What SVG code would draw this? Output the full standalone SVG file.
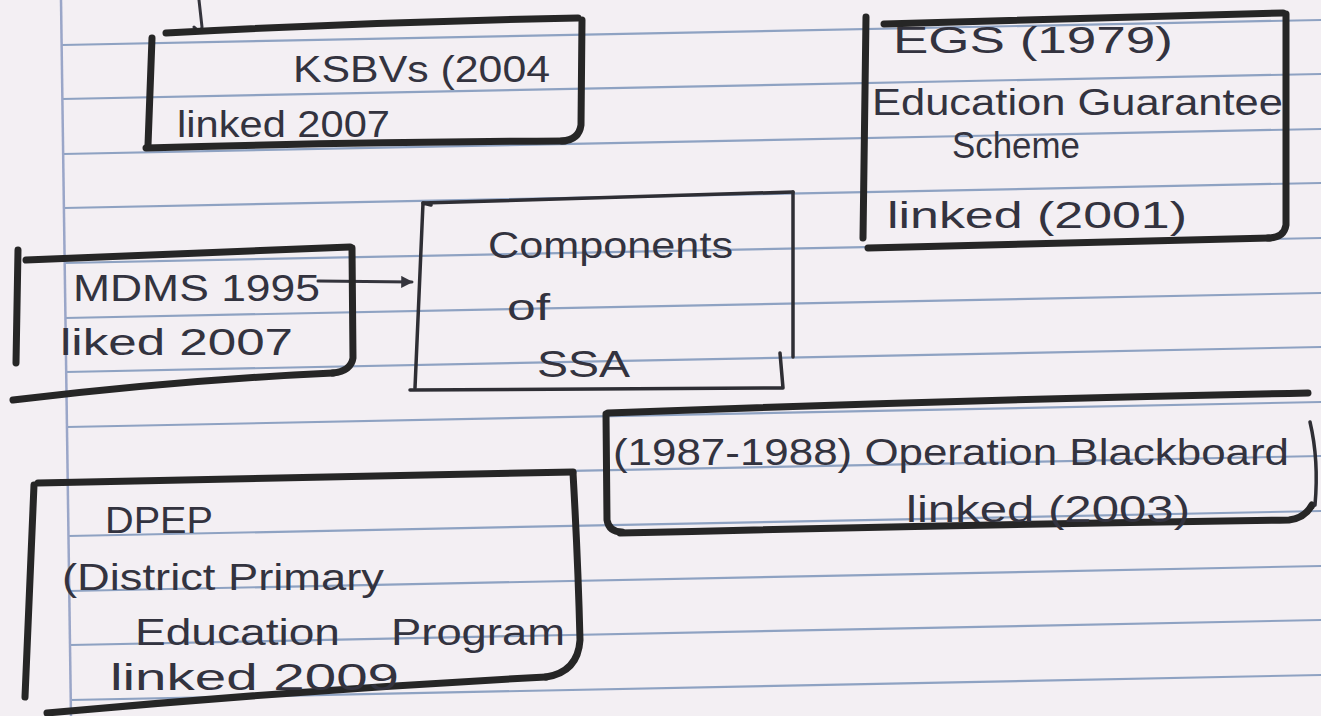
<svg xmlns="http://www.w3.org/2000/svg" width="1321" height="716" viewBox="0 0 1321 716">
<style>
.paper{fill:#f3eff3}
.rule{stroke:#8ea2c2;stroke-width:2.2}
.margin{stroke:#9aa6c8;stroke-width:2.5}
.box{fill:none;stroke:#262626;stroke-width:7;stroke-linecap:round;stroke-linejoin:round}
.thin{fill:none;stroke:#2e2e34;stroke-width:3.5;stroke-linecap:round;stroke-linejoin:round}
.conn{fill:none;stroke:#34343c;stroke-width:3;stroke-linecap:round}
.t{font-family:"Liberation Sans","DejaVu Sans",sans-serif;fill:#33333f;font-size:36px}
</style>
<defs>
<marker id="ah" viewBox="0 0 10 10" refX="9" refY="5" markerWidth="4" markerHeight="4" orient="auto">
<path d="M0,0 L10,5 L0,10 z" fill="#34343c"/>
</marker>
</defs>
<rect class="paper" x="0" y="0" width="1321" height="716"/>
<g id="paper-lines">
<line class="rule" x1="62" y1="-9" x2="1321" y2="-34"/>
<line class="rule" x1="62" y1="45" x2="1321" y2="20"/>
<line class="rule" x1="62" y1="99" x2="1321" y2="74"/>
<line class="rule" x1="63" y1="154" x2="1321" y2="129"/>
<line class="rule" x1="64" y1="208" x2="1321" y2="183"/>
<line class="rule" x1="64" y1="263" x2="1321" y2="238"/>
<line class="rule" x1="65" y1="318" x2="1321" y2="293"/>
<line class="rule" x1="66" y1="372" x2="1321" y2="347"/>
<line class="rule" x1="67" y1="427" x2="1321" y2="402"/>
<line class="rule" x1="67" y1="481" x2="1321" y2="456"/>
<line class="rule" x1="68" y1="536" x2="1321" y2="511"/>
<line class="rule" x1="69" y1="591" x2="1321" y2="566"/>
<line class="rule" x1="70" y1="645" x2="1321" y2="620"/>
<line class="rule" x1="70" y1="700" x2="1321" y2="675"/>
<line class="margin" x1="61" y1="0" x2="71" y2="716"/>
</g>
<g id="connectors">
<path class="conn" d="M199,0 L202,27 Q201,34 194,27"/>
<path class="conn" d="M318,281 L412,282" marker-end="url(#ah)"/>
</g>
<g id="ksbv">
<path class="box" d="M152,38 L148,145"/>
<path class="box" d="M166,33 Q370,22 578,18"/>
<path class="box" d="M582,20 L581,125 Q579,140 562,141"/>
<path class="box" d="M146,148 Q360,142 565,141"/>
<text class="t" x="293" y="82" font-size="38" textLength="257" lengthAdjust="spacingAndGlyphs">KSBVs (2004</text>
<text class="t" x="177" y="137" font-size="34" textLength="213" lengthAdjust="spacingAndGlyphs">linked 2007</text>
</g>
<g id="egs">
<path class="box" d="M866,17 L863,238" stroke-width="5"/>
<path class="box" d="M884,24 L1283,13"/>
<path class="box" d="M1286,14 L1286,225 Q1284,238 1268,238"/>
<path class="box" d="M868,248 L1270,238"/>
<text class="t" x="893" y="53" font-size="40" textLength="280" lengthAdjust="spacingAndGlyphs">EGS (1979)</text>
<text class="t" x="872" y="115" font-size="34" textLength="411" lengthAdjust="spacingAndGlyphs">Education Guarantee</text>
<text class="t" x="952" y="158" font-size="32" textLength="128" lengthAdjust="spacingAndGlyphs">Scheme</text>
<text class="t" x="887" y="228" font-size="36" textLength="300" lengthAdjust="spacingAndGlyphs">linked (2001)</text>
</g>
<g id="mdms">
<path class="box" d="M18,250 L16,363" stroke-width="8"/>
<path class="box" d="M26,260 L350,247" stroke-width="8"/>
<path class="box" d="M352,248 L353,358 Q351,371 333,373"/>
<path class="box" d="M13,400 Q180,380 333,373" stroke-width="8"/>
<text class="t" x="73" y="301" font-size="36" textLength="247" lengthAdjust="spacingAndGlyphs">MDMS 1995</text>
<text class="t" x="60" y="355" font-size="34" textLength="233" lengthAdjust="spacingAndGlyphs">liked 2007</text>
</g>
<g id="components">
<path class="thin" d="M431,205 L423,203 L415,388"/>
<path class="thin" d="M423,203 L793,192"/>
<path class="thin" d="M793,192 L793,357"/>
<path class="thin" d="M410,390 L783,388 L780,353"/>
<text class="t" x="488" y="258" font-size="40" textLength="245" lengthAdjust="spacingAndGlyphs">Components</text>
<text class="t" x="507" y="320" font-size="38" textLength="43" lengthAdjust="spacingAndGlyphs">of</text>
<text class="t" x="537" y="377" font-size="34" textLength="93" lengthAdjust="spacingAndGlyphs">SSA</text>
</g>
<g id="operation-blackboard">
<path class="box" d="M608,413 Q950,400 1308,393" stroke-width="8"/>
<path class="box" d="M606,414 L607,520 Q609,532 622,532"/>
<path class="box" d="M620,533 Q950,525 1289,520 Q1305,518 1312,505"/>
<path class="thin" d="M1310,422 Q1319,460 1315,505"/>
<text class="t" x="613" y="465" font-size="36" textLength="676" lengthAdjust="spacingAndGlyphs">(1987-1988) Operation Blackboard</text>
<text class="t" x="906" y="522" font-size="36" textLength="284" lengthAdjust="spacingAndGlyphs">linked (2003)</text>
</g>
<g id="dpep">
<path class="box" d="M38,483 L573,472" stroke-width="8"/>
<path class="box" d="M34,485 L25,697"/>
<path class="box" d="M573,473 Q578,560 580,640 Q578,672 546,677"/>
<path class="box" d="M47,713 Q300,690 546,677" stroke-width="8"/>
<text class="t" x="105" y="533" font-size="36" textLength="108" lengthAdjust="spacingAndGlyphs">DPEP</text>
<text class="t" x="62" y="590" font-size="36" textLength="322" lengthAdjust="spacingAndGlyphs">(District Primary</text>
<text class="t" y="645" font-size="36"><tspan x="135" textLength="205" lengthAdjust="spacingAndGlyphs">Education</tspan><tspan x="391" textLength="174" lengthAdjust="spacingAndGlyphs">Program</tspan></text>
<text class="t" x="110" y="690" font-size="36" textLength="289" lengthAdjust="spacingAndGlyphs">linked 2009</text>
</g>
</svg>
